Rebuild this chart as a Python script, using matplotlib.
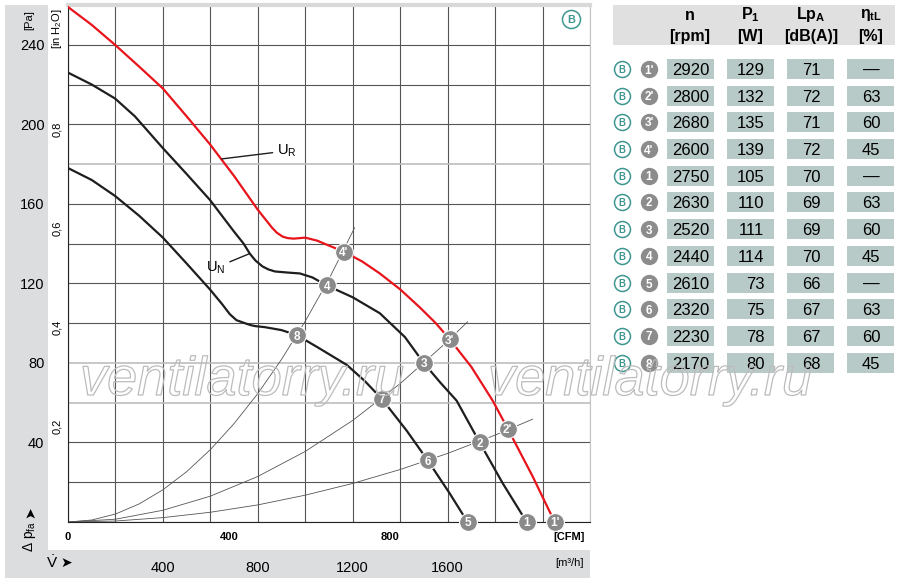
import matplotlib
matplotlib.use("Agg")
import matplotlib.pyplot as plt
import matplotlib.patheffects as pe
from matplotlib.patches import Rectangle

SANS = ['Liberation Sans', 'DejaVu Sans']
plt.rcParams['font.family'] = SANS
plt.rcParams['mathtext.fontset'] = 'custom'
plt.rcParams['mathtext.rm'] = 'Liberation Sans'
plt.rcParams['mathtext.bf'] = 'Liberation Sans:bold'

# fan curves  (V in m3/h, dp in Pa)
ur_q = [0, 100, 198, 300, 400, 500, 598, 700, 800, 830, 860, 880, 905, 925, 950,
        1000, 1050, 1100, 1162, 1240, 1314, 1400, 1482, 1550, 1608, 1700, 1790,
        1853, 1958, 2051]
ur_p = [259, 250, 240, 229, 218, 204, 190, 174, 157, 152.5, 148, 145.5, 143.5,
        142.8, 142.5, 143, 141.5, 139, 136, 131, 125, 117, 108, 100, 92, 78, 61,
        47, 23, 0]

un_q = [0, 100, 198, 282, 400, 500, 598, 700, 740, 766, 790, 820, 845, 872, 920,
        977, 1030, 1090, 1200, 1314, 1420, 1499, 1570, 1638, 1735, 1832, 1933]
un_p = [226, 220, 213, 204, 188, 175, 162, 146, 140, 135, 131.5, 128.5, 127,
        126, 125.5, 125, 123, 119, 113, 105, 93, 80, 70, 61, 40, 19.5, 0]

low_q = [0, 100, 198, 300, 400, 500, 598, 650, 682, 710, 745, 770, 790, 829,
         900, 964, 1050, 1175, 1250, 1322, 1427, 1516, 1608, 1684]
low_p = [178, 172, 164, 154, 143, 130, 117, 109.5, 104.5, 101.5, 100, 99,
         98.5, 98, 96.5, 94, 88, 79, 71, 62, 46, 31, 14.5, 0]

# system curves
sysa_q = [0, 100, 200, 300, 400, 500, 600, 700, 800, 900, 1000, 1100, 1208]
sysa_p = [0, 1.0, 4.0, 9.1, 16.2, 25.3, 36.4, 49.5, 64.6, 81.8, 101, 122.2, 148]
sysb_q = [0, 200, 400, 600, 800, 1000, 1200, 1400, 1600, 1684]
sysb_p = [0, 1.4, 5.9, 13.0, 22.9, 35.5, 51.1, 69.6, 90.9, 100.7]
sysc_q = [0, 200, 400, 600, 800, 1000, 1200, 1400, 1600, 1800, 1958]
sysc_p = [0, 0.5, 2.2, 4.9, 8.6, 13.5, 19.4, 26.4, 34.5, 43.7, 51.7]

# operating points
pt_labels = ["1'", "2'", "3'", "4'", "1", "2", "3", "4", "5", "6", "7", "8"]
pt_q = [2051, 1853, 1608, 1162, 1933, 1735, 1499, 1090, 1684, 1516, 1322, 964]
pt_p = [0, 47, 92, 136, 0, 40, 80, 119, 0, 31, 62, 94]

# table
n_rpm = [2920, 2800, 2680, 2600, 2750, 2630, 2520, 2440, 2610, 2320, 2230, 2170]
p1_w = [129, 132, 135, 139, 105, 110, 111, 114, 73, 75, 78, 80]
lpa_db = [71, 72, 71, 72, 70, 69, 69, 70, 66, 67, 67, 68]
eta_pct = [None, 63, 60, 45, None, 63, 60, 45, None, 63, 60, 45]

pa_ticks = [40, 80, 120, 160, 200, 240]
inh2o_ticks = [0.2, 0.4, 0.6, 0.8]
cfm_ticks = [0, 400, 800]
m3h_ticks = [400, 800, 1200, 1600]

W, H = 900, 587
fig = plt.figure(figsize=(9, 5.87), dpi=100)
fig.patch.set_facecolor('white')

# background bands
bg = fig.add_axes([0, 0, 1, 1], zorder=0)
bg.set_xlim(0, W)
bg.set_ylim(H, 0)
bg.axis('off')
band = '#dcdddf'
bg.add_patch(Rectangle((5, 5), 43, 573, color=band, lw=0))
bg.add_patch(Rectangle((5, 550), 585, 28, color=band, lw=0))
bg.add_patch(Rectangle((613, 5), 282, 40, color='#e0e0e0', lw=0))

# main chart
x0, x1, y0, y1 = 68, 590, 5, 522
ax = fig.add_axes([x0 / W, (H - y1) / H, (x1 - x0) / W, (y1 - y0) / H], zorder=1)
ax.set_facecolor('white')
ax.set_xlim(0, 2200)
ax.set_ylim(0, 260)
ax.set_xticks(range(0, 2201, 200))
ax.set_yticks(range(0, 261, 20))
ax.set_xticklabels([str(v) if v in m3h_ticks else '' for v in range(0, 2201, 200)])
ax.set_yticklabels([str(v) if v in pa_ticks else '' for v in range(0, 261, 20)])
ax.tick_params(axis='y', length=0, pad=17, labelsize=10.5)
ax.tick_params(axis='x', length=0, pad=28, labelsize=10.5)
ax.grid(True, color='#555555', lw=0.8, zorder=0)
for v, gl in zip(range(0, 261, 20), ax.get_ygridlines()):
    if v in (60, 80, 180):
        gl.set_color('#bdbdbd')
        gl.set_linewidth(1.2)
ax.spines['left'].set_color('#222222')
ax.spines['bottom'].set_color('#222222')
ax.spines['top'].set_color('#d9d9d9')
ax.spines['top'].set_linewidth(3)
ax.spines['right'].set_color('#c4c4c4')

ax.plot(sysa_q, sysa_p, color='#555555', lw=0.6, zorder=2)
ax.plot(sysb_q, sysb_p, color='#555555', lw=0.6, zorder=2)
ax.plot(sysc_q, sysc_p, color='#555555', lw=0.6, zorder=2)
ax.plot(low_q, low_p, color='#1e1e1e', lw=1.6, zorder=3)
ax.plot(un_q, un_p, color='#1e1e1e', lw=1.6, zorder=3)
ax.plot(ur_q, ur_p, color='#e8141c', lw=1.6, zorder=3)

ax.scatter(pt_q, pt_p, s=165, color='#8a8a8a', edgecolor='white', lw=0.8,
           zorder=5, clip_on=False)
for lab, q, p in zip(pt_labels, pt_q, pt_p):
    ax.text(q, p, lab, ha='center', va='center_baseline', color='white',
            fontsize=8.5, fontweight='bold', zorder=6, clip_on=False)

ax.annotate(r'$\mathrm{U_R}$', xy=(648, 182.6), xytext=(880, 186.6),
            fontsize=10.5, va='center', ha='left',
            arrowprops=dict(arrowstyle='-', color='#1e1e1e', lw=1,
                            shrinkA=1, shrinkB=0))
ax.annotate(r'$\mathrm{U_N}$', xy=(766, 135), xytext=(665, 128),
            fontsize=10.5, va='center', ha='right',
            arrowprops=dict(arrowstyle='-', color='#1e1e1e', lw=1,
                            shrinkA=1, shrinkB=0))

# secondary scales
cfm = ax.secondary_xaxis('bottom', functions=(lambda q: q * 0.5886, lambda c: c / 0.5886))
cfm.set_xticks(cfm_ticks)
cfm.tick_params(length=0, pad=7, labelsize=8)
for t in cfm.get_xticklabels():
    t.set_fontweight('bold')
cfm.spines['bottom'].set_visible(False)
inh = ax.secondary_yaxis('left', functions=(lambda p: p / 249.09, lambda i: i * 249.09))
inh.set_yticks(inh2o_ticks)
inh.set_yticklabels([f'{v:.1f}'.replace('.', ',') for v in inh2o_ticks])
inh.tick_params(length=0, pad=4, labelsize=8, labelrotation=90)
inh.spines['left'].set_visible(False)

# overlay in pixel units
ov = fig.add_axes([0, 0, 1, 1], zorder=3)
ov.set_xlim(0, W)
ov.set_ylim(H, 0)
ov.axis('off')
ov.patch.set_alpha(0)

ov.text(29, 20, '[Pa]', rotation=90, ha='center', va='center', fontsize=8)
ov.text(57, 29, r'[in H$_\mathrm{2}$O]', rotation=90, ha='center', va='center', fontsize=8)
ov.text(30, 536, r'Δ p$_\mathrm{fa}$', rotation=90, ha='center', va='center', fontsize=10)
ov.text(30, 512, '➤', rotation=90, ha='center', va='center', fontsize=10,
        family='DejaVu Sans')
ov.text(52, 563, r'$\dot{\mathrm{V}}$', ha='center', va='center', fontsize=11)
ov.text(66, 563, '➤', ha='center', va='center', fontsize=10, family='DejaVu Sans')
ov.text(569, 537, '[CFM]', ha='center', va='center', fontsize=8, fontweight='bold')
ov.text(569, 563, '[m³/h]', ha='center', va='center', fontsize=8)

teal = '#3f9690'


def b_badge(x, y, size=14):
    ov.scatter([x], [y], s=size ** 2, facecolor='white', edgecolor=teal, lw=1.1, zorder=4)
    ov.text(x, y, 'B', color=teal, fontsize=size * 0.6, fontweight='bold',
            ha='center', va='center_baseline', zorder=5)


b_badge(571, 19, 13)

# table
heads = [(690, 'n', '[rpm]'), (750, r'P$_\mathbf{1}$', '[W]'),
         (811, r'Lp$_\mathbf{A}$', '[dB(A)]'), (871, r'η$_\mathbf{tL}$', '[%]')]
for x, top, bot in heads:
    ov.text(x, 15, top, ha='center', va='center', fontsize=11.5, fontweight='bold')
    ov.text(x, 36, bot, ha='center', va='center', fontsize=11.5, fontweight='bold')

cell = '#b8cac7'
cols = [667, 727, 787, 847]
row_y = [69, 96, 122, 149, 176, 202, 229, 256, 283, 309, 336, 363]
for i, y in enumerate(row_y):
    b_badge(622, y, 11.5)
    ov.scatter([649], [y], s=12.5 ** 2, color='#8c8c8c', lw=0, zorder=4)
    ov.text(649, y, pt_labels[i], color='white', fontsize=8.5, fontweight='bold',
            ha='center', va='center_baseline', zorder=5)
    for cx in cols:
        ov.add_patch(Rectangle((cx, y - 10), 47, 20, color=cell, lw=0, zorder=2))
    ov.text(691, y, str(n_rpm[i]), ha='center', va='center_baseline', fontsize=12, zorder=3)
    ov.text(764.5, y, str(p1_w[i]), ha='right', va='center_baseline', fontsize=12, zorder=3)
    ov.text(811, y, str(lpa_db[i]), ha='center', va='center_baseline', fontsize=12, zorder=3)
    e = '—' if eta_pct[i] is None else str(eta_pct[i])
    ov.text(871, y, e, ha='center', va='center_baseline', fontsize=12, zorder=3)

# watermark (outline only)
for wx in (80, 488):
    fig.text(wx / W, (H - 395) / H, 'ventilatorry.ru', fontsize=39, style='italic',
             family=['Liberation Sans', 'DejaVu Sans'], color=(1, 1, 1, 0),
             zorder=10,
             path_effects=[pe.Stroke(linewidth=0.9, foreground='#bcbcbc')])

fig.savefig('out.png', dpi=100)
